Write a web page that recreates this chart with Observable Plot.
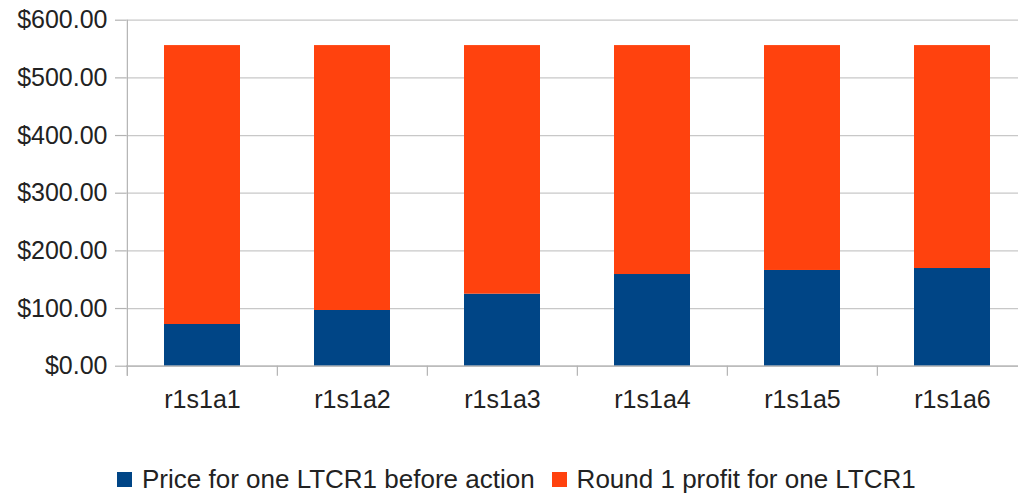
<!DOCTYPE html>
<html>
<head>
<meta charset="utf-8">
<script src="https://cdn.jsdelivr.net/npm/d3@7"></script>
<script src="https://cdn.jsdelivr.net/npm/@observablehq/plot@0.6"></script>
<style>
  html, body { margin: 0; padding: 0; background: #fff; overflow: hidden; }
  body { width: 1018px; height: 496px; font-family: "Liberation Sans", Arial, sans-serif; position: relative; }
  #legend { position: absolute; left: 117px; top: 464px; display: flex; align-items: center;
            font-size: 26px; line-height: 30px; color: #222; white-space: nowrap; }
  .item { display: flex; align-items: center; }
  .sw { width: 15px; height: 15px; margin-right: 10px; }
</style>
</head>
<body>
<div id="chart"></div>
<div id="legend"></div>
<script>
const categories = ["r1s1a1", "r1s1a2", "r1s1a3", "r1s1a4", "r1s1a5", "r1s1a6"];
const price = [72.3, 96.6, 124.9, 159.0, 166.0, 169.4];
const profit = [483.7, 459.4, 431.1, 397.0, 390.0, 386.6];
const seriesNames = ["Price for one LTCR1 before action", "Round 1 profit for one LTCR1"];
const colors = ["#004586", "#ff420e"];
const yTicks = [0, 100, 200, 300, 400, 500, 600];

const data = [];
categories.forEach((c, i) => {
  data.push({cat: c, series: seriesNames[0], value: price[i]});
  data.push({cat: c, series: seriesNames[1], value: profit[i]});
});

const W = 1018, H = 440;
const x0 = 126, x1 = 1028.5, pi = 0.495, po = 0.25;
const step = (x1 - x0) / (categories.length - pi + 2 * po);

const chart = Plot.plot({
  width: W,
  height: H,
  marginLeft: 126,
  marginRight: 0,
  marginTop: 19.7,
  marginBottom: H - 365.7,
  style: {fontFamily: "Liberation Sans, Arial, sans-serif", fontSize: "25px", color: "#222", background: "#fff"},
  x: {domain: categories, range: [x0, x1], paddingInner: pi, paddingOuter: po, label: null},
  y: {domain: [0, 600], label: null},
  color: {domain: seriesNames, range: colors},
  marks: [
    Plot.gridY(yTicks, {stroke: "#c8c8c8", strokeOpacity: 1, strokeWidth: 1.2}),
    Plot.barY(data, {x: "cat", y: "value", fill: "series", order: seriesNames}),
    Plot.ruleY([0], {stroke: "#b3b3b3", strokeWidth: 1.2}),
    Plot.ruleX(categories, {x: d => d, dx: -step / 2, y1: -17.5, y2: 0, stroke: "#b3b3b3", strokeWidth: 1.2}),
    Plot.ruleX([categories[0]], {x: d => d, dx: -step / 2, y1: -17.5, y2: 600, stroke: "#b3b3b3", strokeWidth: 1.2}),
    Plot.axisY(yTicks, {tickSize: 11, tickPadding: 8, stroke: "#b3b3b3", strokeOpacity: 1, strokeWidth: 1.2, fill: "#222", tickFormat: d => "$" + d3.format(".2f")(d), fontSize: 25}),
    Plot.axisX({tickSize: 0, tickPadding: 24, fill: "#222", fontSize: 25})
  ]
});
document.getElementById("chart").appendChild(chart);

const legend = document.getElementById("legend");
seriesNames.forEach((name, i) => {
  const item = document.createElement("div");
  item.className = "item";
  if (i > 0) item.style.marginLeft = "17px";
  const sw = document.createElement("div");
  sw.className = "sw";
  sw.style.background = colors[i];
  const t = document.createElement("span");
  t.textContent = name;
  item.appendChild(sw);
  item.appendChild(t);
  legend.appendChild(item);
});
</script>
</body>
</html>
